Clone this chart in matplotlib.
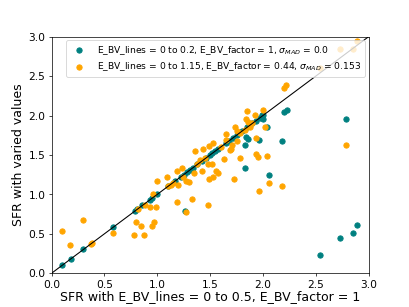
import matplotlib
matplotlib.use("Agg")
import matplotlib.pyplot as plt
import numpy as np

# teal: E_BV_lines = 0 to 0.2
teal_x = [0.10, 0.18, 0.30, 0.58, 0.79, 0.81, 0.86, 0.93, 0.95, 1.00, 1.10, 1.17,
          1.22, 1.25, 1.28, 1.31, 1.34, 1.38, 1.42, 1.46, 1.50, 1.52, 1.55, 1.57,
          1.65, 1.68, 1.72, 1.75, 1.80, 1.85, 1.90, 1.93, 1.97, 2.00,
          1.26, 1.83, 1.83, 1.84, 1.86, 1.96, 2.06, 2.18, 2.04, 2.20, 2.23,
          2.79, 2.54, 2.73, 2.85, 2.89, 1.99, 2.00]
teal_y = [0.11, 0.18, 0.31, 0.58, 0.79, 0.81, 0.86, 0.93, 0.95, 1.00, 1.10, 1.17,
          1.22, 1.25, 1.28, 1.31, 1.34, 1.38, 1.42, 1.46, 1.50, 1.52, 1.55, 1.57,
          1.65, 1.68, 1.72, 1.75, 1.80, 1.85, 1.90, 1.93, 1.97, 2.01,
          0.79, 1.34, 1.62, 1.73, 1.70, 1.69, 1.25, 1.68, 1.85, 2.05, 2.07,
          1.95, 0.23, 0.45, 0.51, 0.61, 2.01, 1.95]

# orange: E_BV_lines = 0 to 1.15
orange_x = [0.10, 0.17, 0.30, 0.37, 0.38, 0.58, 0.78, 0.80, 0.82, 0.85, 0.87, 0.88,
            0.95, 0.97, 0.96, 0.99, 0.93, 1.00, 1.09, 1.13, 1.19, 1.19, 1.20, 1.23,
            1.24, 1.27, 1.27, 1.30, 1.33, 1.35, 1.36, 1.40, 1.42, 1.43, 1.45, 1.48,
            1.48, 1.49, 1.49, 1.52, 1.53, 1.53, 1.56, 1.57, 1.63, 1.65, 1.65, 1.69,
            1.70, 1.71, 1.73, 1.75, 1.74, 1.75, 1.78, 1.83, 1.84, 1.85, 1.86, 1.88,
            1.92, 1.93, 1.93, 1.95, 1.96, 2.00, 2.02, 2.04, 2.06, 2.18, 2.20, 2.22,
            2.79, 2.54, 2.73, 2.85, 2.89, 1.10, 1.15, 1.38, 1.60, 1.78, 1.90]
orange_y = [0.54, 0.36, 0.68, 0.37, 0.38, 0.51, 0.49, 0.65, 0.82, 0.60, 0.48, 0.86,
            0.60, 0.65, 1.00, 0.84, 0.84, 1.17, 1.22, 1.12, 0.90, 1.30, 1.12, 1.33,
            1.22, 0.78, 1.17, 1.16, 0.94, 1.27, 1.55, 1.44, 1.30, 1.58, 1.46, 1.39,
            0.86, 1.20, 1.61, 1.39, 1.22, 1.65, 1.30, 1.27, 1.45, 1.69, 1.76, 1.56,
            1.58, 1.63, 1.20, 1.68, 1.85, 1.80, 1.46, 1.81, 1.95, 2.06, 1.92, 1.86,
            2.01, 1.72, 1.51, 1.48, 1.04, 2.07, 1.86, 1.49, 1.15, 1.10, 2.35, 2.39,
            1.62, 2.60, 2.84, 2.84, 2.95, 1.10, 1.15, 1.38, 1.60, 1.78, 1.90]

fig, ax = plt.subplots(figsize=(6.4, 4.8), dpi=64)
fig.subplots_adjust(left=0.126, right=0.9, bottom=0.11, top=0.88)

ax.scatter(teal_x, teal_y, color="teal", s=36,
           label=r"E_BV_lines = 0 to 0.2, E_BV_factor = 1, $\sigma_{MAD}$ = 0.0")
ax.scatter(orange_x, orange_y, color="orange", s=36,
           label=r"E_BV_lines = 0 to 1.15, E_BV_factor = 0.44, $\sigma_{MAD}$ = 0.153")
ax.plot([0, 3], [0, 3], color="black", lw=1.2)

ax.set_xlim(0, 3)
ax.set_ylim(0, 3)
ax.set_xticks(np.arange(0, 3.01, 0.5))
ax.set_yticks(np.arange(0, 3.01, 0.5))
ax.tick_params(labelsize=12)
ax.set_xlabel("SFR with E_BV_lines = 0 to 0.5, E_BV_factor = 1", fontsize=14, labelpad=1)
ax.set_ylabel("SFR with varied values", fontsize=14)
ax.legend(loc="upper right", fontsize=10.3, handletextpad=1.0, borderaxespad=0.4,
          borderpad=0.4, labelspacing=0.4)

fig.savefig("out.png", dpi=64)
